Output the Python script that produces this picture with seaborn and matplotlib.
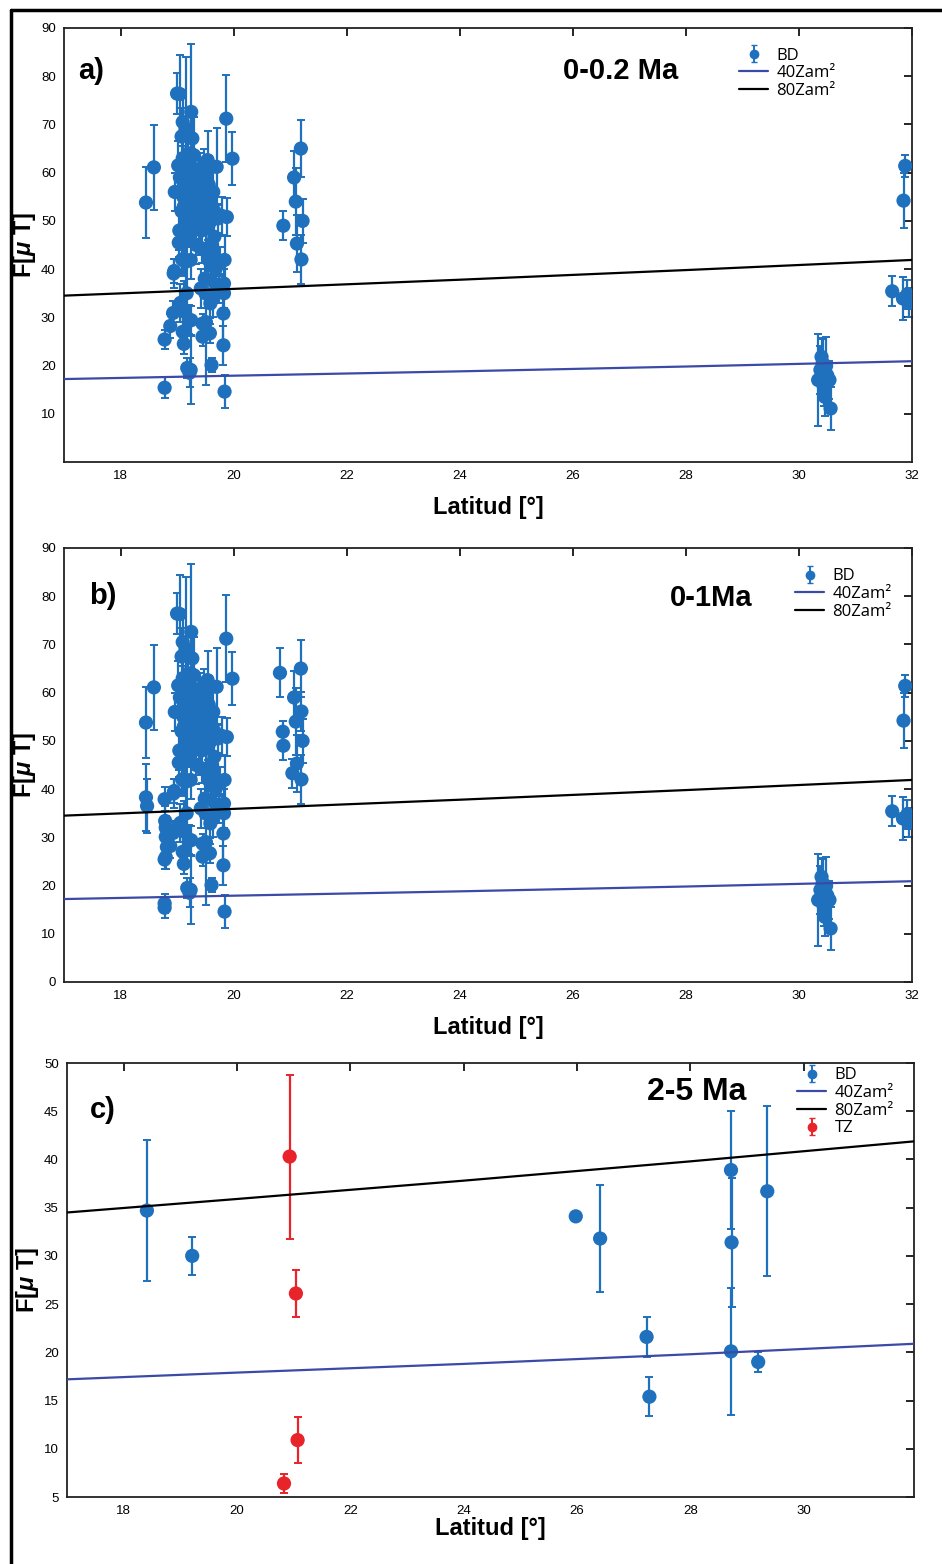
import numpy as np
import pandas as pd
import matplotlib
matplotlib.use("Agg")
import matplotlib.pyplot as plt
import seaborn as sns
from matplotlib.lines import Line2D

# ---------------- data ----------------
# Panel a (0-0.2 Ma), BD
lat_a = [18.45, 18.59, 18.78, 18.78, 18.88, 18.93, 18.94, 18.95, 18.96, 19.00,
         19.02, 19.03, 19.04, 19.05, 19.05, 19.06, 19.08, 19.08, 19.09, 19.10,
         19.10, 19.10, 19.11, 19.12, 19.12, 19.13, 19.14, 19.15, 19.15, 19.16,
         19.17, 19.18, 19.18, 19.20, 19.20, 19.21, 19.22, 19.22, 19.24, 19.24,
         19.25, 19.25, 19.26, 19.27, 19.28, 19.29, 19.30, 19.32, 19.34, 19.36,
         19.38, 19.40, 19.42, 19.43, 19.44, 19.45, 19.45, 19.46, 19.48, 19.49,
         19.50, 19.50, 19.51, 19.52, 19.54, 19.55, 19.56, 19.58, 19.58, 19.59,
         19.60, 19.60, 19.61, 19.62, 19.63, 19.64, 19.65, 19.66, 19.66, 19.68,
         19.70, 19.72, 19.74, 19.76, 19.80, 19.82, 19.82, 19.83, 19.83, 19.84,
         19.84, 19.87, 19.88, 19.98,
         19.12, 19.18, 19.22, 19.27, 19.33, 19.38, 19.44, 19.52, 19.57,
         20.88, 21.07, 21.10, 21.12, 21.19, 21.22, 21.20,
         30.34, 30.38, 30.40, 30.42, 30.44, 30.46, 30.48, 30.50, 30.54, 30.56,
         31.65, 31.85, 31.88, 31.84, 31.92, 31.95]
F_a = [53.8, 61.1, 15.4, 25.4, 28.2, 30.9, 39.1, 39.6, 56.0, 76.4,
       61.5, 45.5, 48.0, 76.3, 59.0, 33.0, 67.5, 52.0, 42.0, 70.5,
       63.0, 27.0, 55.0, 46.5, 24.5, 31.5, 58.0, 69.0, 41.5, 50.0,
       35.0, 19.5, 62.0, 64.0, 47.5, 29.5, 55.0, 18.5, 19.1, 41.9,
       72.6, 29.4, 60.0, 67.1, 52.5, 57.0, 63.6, 49.0, 45.0, 53.6,
       60.0, 56.5, 36.0, 48.0, 44.3, 28.7, 26.0, 52.0, 62.0, 38.0,
       35.0, 55.0, 29.0, 48.5, 62.6, 42.0, 57.5, 54.3, 26.7, 32.9,
       50.2, 37.7, 20.1, 45.0, 34.0, 56.0, 43.6, 46.7, 52.0, 40.0,
       61.2, 50.5, 36.0, 41.5, 51.0, 30.8, 24.2, 35.0, 37.0, 41.9,
       14.6, 71.2, 50.8, 62.9,
       53.0, 57.0, 50.5, 61.0, 58.5, 51.0, 55.5, 59.5, 49.5,
       49.0, 59.0, 54.0, 45.3, 65.0, 50.0, 42.0,
       17.0, 19.1, 21.8, 20.5, 15.6, 13.5, 19.9, 18.0, 17.0, 11.1,
       35.4, 54.2, 61.4, 33.9, 34.8, 33.0]
err_a = [7.3, 8.8, 2.2, 2.0, 2.5, 2.5, 3.0, 2.5, 4.0, 4.3,
         5.0, 3.0, 4.0, 8.0, 4.0, 4.0, 6.0, 5.0, 3.0, 5.0,
         6.0, 3.0, 5.0, 8.0, 2.0, 6.0, 4.0, 15.0, 6.0, 4.0,
         10.0, 2.0, 5.0, 6.0, 3.0, 3.0, 3.0, 3.0, 7.0, 4.0,
         14.0, 3.0, 4.0, 5.0, 6.0, 4.0, 8.0, 3.0, 4.0, 6.0,
         4.0, 5.0, 4.0, 5.0, 3.0, 2.0, 2.0, 5.0, 3.0, 4.0,
         3.0, 4.0, 13.0, 4.0, 6.0, 4.0, 6.0, 3.0, 2.0, 3.0,
         4.0, 3.0, 1.5, 3.0, 4.0, 5.0, 4.0, 3.0, 2.5, 2.0,
         8.0, 3.0, 3.0, 3.0, 4.0, 6.0, 4.0, 3.0, 3.0, 5.0,
         3.5, 9.0, 4.0, 5.5,
         4.0, 3.0, 5.0, 4.0, 3.0, 5.0, 4.0, 3.0, 4.0,
         3.0, 5.5, 7.0, 6.0, 6.0, 4.5, 5.0,
         9.5, 5.0, 4.0, 5.0, 4.0, 4.0, 6.0, 3.0, 4.0, 4.5,
         3.1, 5.7, 2.2, 4.4, 3.0, 3.0]

# Panel b (0-1 Ma): panel a sites plus these additional BD sites
lat_b_extra = [18.45, 18.47, 18.78, 18.79, 18.80, 18.80, 18.82, 18.80, 18.78,
               20.82, 20.87, 21.04, 21.20]
F_b_extra = [38.3, 36.5, 37.9, 33.4, 32.0, 30.1, 28.0, 25.9, 16.3,
             64.1, 51.9, 43.3, 56.1]
err_b_extra = [7.0, 5.7, 2.5, 3.0, 2.5, 2.5, 2.5, 2.5, 2.0,
               5.1, 2.3, 3.0, 4.0]

# Panel c (2-5 Ma)
lat_c_bd = [18.41, 19.21, 25.98, 26.41, 27.23, 27.28, 28.72, 28.73, 28.72, 29.20, 29.36]
F_c_bd = [34.7, 30.0, 34.1, 31.8, 21.6, 15.4, 38.9, 31.4, 20.1, 19.0, 36.7]
err_c_bd = [7.3, 2.0, 0.0, 5.5, 2.1, 2.0, 6.1, 6.7, 6.6, 1.0, 8.8]
lat_c_tz = [20.93, 21.04, 21.07, 20.83]
F_c_tz = [40.3, 26.1, 10.9, 6.4]
err_c_tz = [8.5, 2.4, 2.4, 1.0]

# Dipole reference curves
lat_line = [17.0, 20.0, 24.0, 28.0, 32.0]
F_40 = [17.2, 17.9, 18.8, 19.8, 20.9]
F_80 = [34.5, 35.9, 37.8, 39.8, 41.9]

# ---------------- style ----------------
sns.set_theme(style="white")
plt.rcParams['font.family'] = ['Liberation Sans', 'DejaVu Sans']
plt.rcParams['mathtext.fontset'] = 'custom'
plt.rcParams['mathtext.it'] = 'Liberation Sans:italic:bold'
plt.rcParams['mathtext.rm'] = 'Liberation Sans:bold'
plt.rcParams['text.color'] = 'black'
plt.rcParams['axes.labelcolor'] = 'black'
plt.rcParams['xtick.color'] = 'black'
plt.rcParams['ytick.color'] = 'black'

BLUE = '#1f70bd'
LINE40 = '#3b4aa6'
RED = '#e8232a'

fig = plt.figure(figsize=(9.42, 15.64), dpi=100)
W, H = 942, 1564


def add_ax(left, top, right, bottom):
    return fig.add_axes([left / W, 1 - bottom / H, (right - left) / W, (bottom - top) / H])


ax_a = add_ax(64, 28, 912, 462)
ax_b = add_ax(64, 548, 912, 982)
ax_c = add_ax(67, 1063, 914, 1497)

lines_df = pd.DataFrame({'lat': lat_line, 'F40': F_40, 'F80': F_80})


def draw(ax, lat, F, err, color):
    df = pd.DataFrame({'lat': lat, 'F': F, 'err': err})
    ax.errorbar(df['lat'], df['F'], yerr=df['err'], fmt='none', ecolor=color,
                elinewidth=1.6, capsize=3, capthick=1.4, zorder=2)
    sns.scatterplot(data=df, x='lat', y='F', ax=ax, color=color, s=105,
                    edgecolor='none', linewidth=0, legend=False, zorder=3)


def draw_lines(ax):
    sns.lineplot(data=lines_df, x='lat', y='F40', ax=ax, color=LINE40, lw=1.6,
                 zorder=4, legend=False)
    sns.lineplot(data=lines_df, x='lat', y='F80', ax=ax, color='black', lw=1.6,
                 zorder=4, legend=False)


def proxy_handles(ax, with_tz=False):
    h = [ax.errorbar([np.nan], [np.nan], yerr=[np.nan], fmt='o', color=BLUE,
                     ms=6, elinewidth=1.4, capsize=2.5)]
    h.append(Line2D([], [], color=LINE40, lw=1.6))
    h.append(Line2D([], [], color='black', lw=1.6))
    labels = ['BD', '40Zam²', '80Zam²']
    if with_tz:
        h.append(ax.errorbar([np.nan], [np.nan], yerr=[np.nan], fmt='o', color=RED,
                             ms=6, elinewidth=1.4, capsize=2.5))
        labels.append('TZ')
    return h, labels


def style_ax(ax, xlim, ylim, xticks, yticks):
    ax.set_xlim(*xlim)
    ax.set_ylim(*ylim)
    ax.set_xticks(xticks)
    ax.set_yticks(yticks)
    ax.tick_params(direction='in', length=6, width=1.2, top=True, right=True,
                   labelsize=9.5, pad=6, color='black', labelcolor='black')
    for lab in ax.get_xticklabels() + ax.get_yticklabels():
        lab.set_family(['Liberation Sans Narrow', 'Liberation Sans'])
    for sp in ax.spines.values():
        sp.set_color('#222222')
        sp.set_linewidth(1.3)
    ax.set_ylabel(r'F[$\mu$ T]', fontsize=17, fontweight='bold', labelpad=2)


def legend(ax, h, l, x, y):
    ax.legend(h, l, loc='upper left', bbox_to_anchor=(x, y), frameon=False,
              prop={'family': 'Open Sans', 'size': 12}, handlelength=1.75,
              labelspacing=0.1, borderaxespad=0, handletextpad=0.5,
              borderpad=0)


# ---- panel a ----
draw(ax_a, lat_a, F_a, err_a, BLUE)
draw_lines(ax_a)
style_ax(ax_a, (17, 32), (0, 90), range(18, 33, 2), range(10, 91, 10))
ax_a.set_xlabel('Latitud [°]', fontsize=17, fontweight='bold', labelpad=10)
ax_a.text(0.017, 0.9, 'a)', transform=ax_a.transAxes, fontsize=21,
          fontweight='bold', ha='left', va='center')
ax_a.text(0.656, 0.9, '0-0.2 Ma', transform=ax_a.transAxes, fontsize=21,
          fontweight='bold', ha='center', va='center')
h, l = proxy_handles(ax_a)
legend(ax_a, h, l, 0.796, 0.955)

# ---- panel b ----
draw(ax_b, lat_a + lat_b_extra, F_a + F_b_extra, err_a + err_b_extra, BLUE)
draw_lines(ax_b)
style_ax(ax_b, (17, 32), (0, 90), range(18, 33, 2), range(0, 91, 10))
ax_b.set_xlabel('Latitud [°]', fontsize=17, fontweight='bold', labelpad=10)
ax_b.text(0.03, 0.89, 'b)', transform=ax_b.transAxes, fontsize=21,
          fontweight='bold', ha='left', va='center')
ax_b.text(0.763, 0.885, '0-1Ma', transform=ax_b.transAxes, fontsize=21,
          fontweight='bold', ha='center', va='center')
h, l = proxy_handles(ax_b)
legend(ax_b, h, l, 0.862, 0.953)

# ---- panel c ----
draw(ax_c, lat_c_bd, F_c_bd, err_c_bd, BLUE)
draw(ax_c, lat_c_tz, F_c_tz, err_c_tz, RED)
draw_lines(ax_c)
style_ax(ax_c, (17, 31.95), (5, 50), range(18, 31, 2), range(5, 51, 5))
ax_c.set_xlabel('Latitud [°]', fontsize=17, fontweight='bold', labelpad=0)
ax_c.text(0.027, 0.892, 'c)', transform=ax_c.transAxes, fontsize=21,
          fontweight='bold', ha='left', va='center')
ax_c.text(0.744, 0.933, '2-5 Ma', transform=ax_c.transAxes, fontsize=23,
          fontweight='bold', ha='center', va='center')
h, l = proxy_handles(ax_c, with_tz=True)
legend(ax_c, h, l, 0.862, 0.99)

# figure frame
fig.add_artist(Line2D([11 / W, 11 / W], [0, 1 - 10 / H], transform=fig.transFigure,
                      color='black', lw=2.5))
fig.add_artist(Line2D([11 / W, 1], [1 - 10 / H, 1 - 10 / H], transform=fig.transFigure,
                      color='black', lw=2.5))

fig.savefig('out.png', dpi=100)
